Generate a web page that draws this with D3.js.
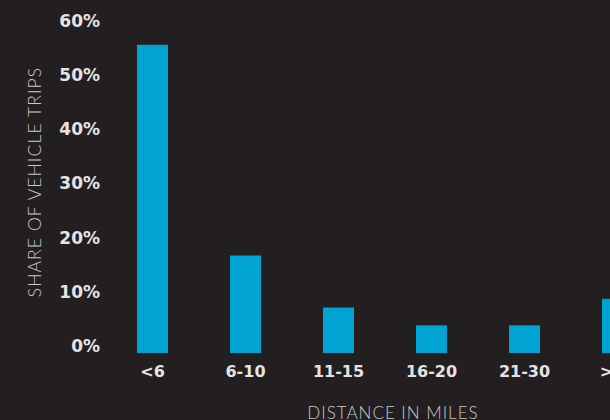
<!DOCTYPE html>
<html>
<head>
<meta charset="utf-8">
<script src="https://cdn.jsdelivr.net/npm/d3@7"></script>
<style>
  html, body { margin: 0; padding: 0; background: #231f20; }
  svg { display: block; }
</style>
</head>
<body>
<svg id="chart" width="610" height="420"></svg>
<script>
// Share of vehicle trips by trip distance
const categories = ["<6", "6-10", "11-15", "16-20", "21-30", ">30"];
const shares = [56.9, 18.0, 8.4, 5.1, 5.1, 10.0];
const yTicks = [0, 10, 20, 30, 40, 50, 60];
const yTitle = "SHARE OF VEHICLE TRIPS";
const xTitle = "DISTANCE IN MILES";

const svg = d3.select("#chart");
const W = 610, H = 420;

svg.append("rect").attr("width", W).attr("height", H).attr("fill", "#231f20");

const x = d3.scaleBand()
  .domain(categories)
  .range([106, 664])
  .paddingInner(2 / 3)
  .paddingOuter(1 / 3);

const y = d3.scaleLinear()
  .domain([0, 60])
  .range([353, 28]);

// bars
svg.append("g")
  .selectAll("rect")
  .data(categories)
  .join("rect")
  .attr("x", d => x(d))
  .attr("width", x.bandwidth())
  .attr("y", (d, i) => y(shares[i]))
  .attr("height", (d, i) => y(0) - y(shares[i]))
  .attr("fill", "#00a3d1");

// y axis labels
const yAxis = d3.axisLeft(y)
  .tickValues(yTicks)
  .tickFormat(d => d + "%")
  .tickSize(0)
  .tickPadding(0);

const gy = svg.append("g")
  .attr("transform", "translate(100,-7)")
  .call(yAxis);
gy.select(".domain").remove();
gy.selectAll("text")
  .attr("fill", "#e4e4e4")
  .style("font-family", "'DejaVu Sans', sans-serif")
  .style("font-weight", "bold")
  .style("font-size", "17px");

// x axis labels
const xAxis = d3.axisBottom(x).tickSize(0).tickPadding(0);
const gx = svg.append("g")
  .attr("transform", "translate(0,366)")
  .call(xAxis);
gx.select(".domain").remove();
gx.selectAll("text")
  .attr("fill", "#e4e4e4")
  .attr("dy", "0.71em")
  .style("font-family", "'DejaVu Sans', sans-serif")
  .style("font-weight", "bold")
  .style("font-size", "16px");

// axis titles
svg.append("text")
  .attr("transform", "translate(41,182) rotate(-90)")
  .attr("text-anchor", "middle")
  .attr("fill", "#c8c8c8")
  .style("font-family", "Lato, sans-serif")
  .style("font-weight", 300)
  .style("font-size", "17.5px")
  .style("letter-spacing", "1.1px")
  .text(yTitle);

svg.append("text")
  .attr("x", 393)
  .attr("y", 419)
  .attr("text-anchor", "middle")
  .attr("fill", "#c8c8c8")
  .style("font-family", "Lato, sans-serif")
  .style("font-weight", 300)
  .style("font-size", "17px")
  .style("letter-spacing", "1px")
  .text(xTitle);
</script>
</body>
</html>
